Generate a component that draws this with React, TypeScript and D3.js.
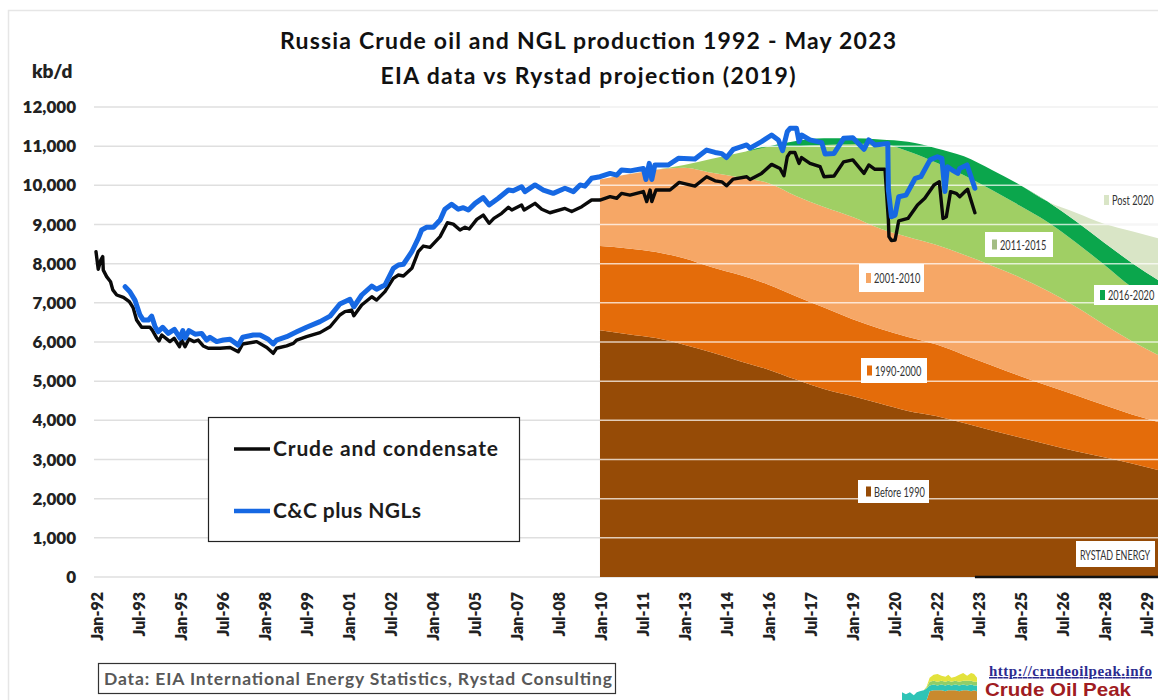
import React from "react";
import * as d3 from "d3";

const yTicks = [0, 1000, 2000, 3000, 4000, 5000, 6000, 7000, 8000, 9000, 10000, 11000, 12000];
const xTickLabels = ["Jan-92","Jul-93","Jan-95","Jul-96","Jan-98","Jul-99","Jan-01","Jul-02","Jan-04","Jul-05","Jan-07","Jul-08","Jan-10","Jul-11","Jan-13","Jul-14","Jan-16","Jul-17","Jan-19","Jul-20","Jan-22","Jul-23","Jan-25","Jul-26","Jan-28","Jul-29"];

const projYears = [2010,2011,2012,2013,2014,2015,2016,2017,2018,2019,2020,2021,2022,2023,2024,2025,2026,2027,2028,2029,2029.93];
const before1990 = [6300,6200,6100,5930,5730,5510,5300,5040,4800,4620,4430,4240,4110,3930,3740,3560,3380,3210,3060,2900,2730];
const top1990_2000 = [8450,8390,8300,8140,7910,7710,7470,7170,6880,6590,6340,6130,5940,5670,5400,5130,4880,4640,4390,4150,3960];
const top2001_2010 = [10150,10280,10400,10450,10320,10200,10060,9730,9450,9200,8900,8680,8480,8230,7950,7650,7300,6900,6450,6020,5670];
const top2011_2015 = [10150,10280,10400,10520,10680,10830,10990,11000,11030,11050,11060,10870,10580,10260,9880,9480,9060,8540,7980,7400,7000];
const top2016_2020 = [10150,10280,10400,10520,10680,10830,10990,11130,11200,11200,11170,11110,10950,10740,10390,10010,9580,9080,8540,8020,7580];
const topPost2020 = [10150,10280,10400,10520,10680,10830,10990,11130,11200,11200,11170,11110,10950,10740,10390,10010,9580,9300,9020,8830,8650];

const crudeYears = [1992,1992.08,1992.17,1992.24,1992.26,1992.38,1992.52,1992.6,1992.74,1992.98,1993.19,1993.33,1993.45,1993.63,1993.93,1994.01,1994.17,1994.25,1994.35,1994.64,1994.79,1994.98,1995.06,1995.18,1995.32,1995.5,1995.65,1995.83,1996.01,1996.43,1996.79,1997.08,1997.24,1997.74,1998.1,1998.33,1998.45,1998.81,1999.05,1999.17,1999.52,2000,2000.36,2000.71,2000.89,2001.13,2001.21,2001.49,2001.85,2002.02,2002.32,2002.62,2002.8,2002.98,2003.28,2003.51,2003.69,2003.93,2004.29,2004.55,2004.76,2005,2005.18,2005.33,2005.6,2005.83,2006.04,2006.21,2006.49,2006.73,2006.85,2007.2,2007.29,2007.68,2007.92,2008.21,2008.75,2008.99,2009.35,2009.7,2010,2010.36,2010.6,2010.77,2011.07,2011.55,2011.67,2011.79,2011.85,2012,2012.5,2012.83,2013.39,2013.81,2014.11,2014.35,2014.52,2014.76,2015.24,2015.36,2015.77,2016.13,2016.43,2016.57,2016.69,2016.79,2016.96,2017.11,2017.2,2017.5,2017.86,2018,2018.36,2018.7,2019.03,2019.43,2019.6,2019.82,2020.18,2020.3,2020.32,2020.41,2020.54,2020.67,2021,2021.34,2021.6,2021.93,2022.12,2022.25,2022.37,2022.52,2022.72,2022.85,2023.04,2023.13,2023.39];
const crudeValues = [8305,7855,8090,8180,7835,7670,7540,7330,7200,7140,7030,6870,6560,6375,6375,6305,6100,6025,6180,6010,6095,5880,6050,5880,6075,6010,6050,5900,5840,5840,5860,5750,5950,6010,5860,5710,5840,5900,5965,6050,6135,6240,6390,6690,6775,6815,6670,6945,7155,7070,7285,7625,7710,7685,7880,8305,8450,8415,8690,9045,9010,8860,8930,8885,9130,9240,9030,9155,9285,9440,9370,9500,9370,9540,9390,9300,9410,9330,9455,9625,9625,9710,9670,9795,9750,9840,9585,9880,9585,9880,9880,10075,9980,10220,10115,10090,9990,10160,10220,10150,10305,10535,10430,10245,10730,10840,10840,10560,10710,10560,10475,10220,10240,10600,10650,10305,10520,10410,10410,9115,8690,8590,8605,9095,9155,9500,9670,10010,10090,9155,9200,9840,9795,9710,9840,9900,9300];

const nglYears = [1993.04,1993.21,1993.39,1993.57,1993.69,1993.87,1993.99,1994.11,1994.22,1994.38,1994.58,1994.8,1995,1995.1,1995.18,1995.32,1995.54,1995.77,1995.95,1996.07,1996.31,1996.55,1996.79,1997.08,1997.24,1997.62,1997.86,1998.15,1998.33,1998.45,1998.81,1999.17,1999.52,2000,2000.36,2000.71,2001.07,2001.21,2001.49,2001.85,2002.02,2002.32,2002.62,2002.8,2002.98,2003.28,2003.51,2003.63,2003.81,2004.05,2004.29,2004.46,2004.7,2004.94,2005.12,2005.3,2005.54,2005.83,2006.04,2006.37,2006.73,2006.9,2007.2,2007.32,2007.68,2007.98,2008.33,2008.75,2009.05,2009.29,2009.46,2009.7,2010,2010.36,2010.6,2010.77,2011.07,2011.55,2011.64,2011.76,2011.85,2011.96,2012.44,2012.8,2013.39,2013.81,2014.11,2014.35,2014.52,2014.76,2015.24,2015.36,2015.77,2016.13,2016.37,2016.52,2016.69,2016.79,2017.02,2017.11,2017.2,2017.5,2017.92,2018.04,2018.36,2018.7,2019.03,2019.43,2019.6,2019.82,2020.28,2020.3,2020.41,2020.54,2020.67,2020.93,2021.26,2021.46,2021.79,2022.05,2022.21,2022.32,2022.41,2022.58,2022.78,2022.85,2023.11,2023.39];
const nglValues = [7410,7285,7070,6690,6560,6560,6660,6390,6260,6375,6220,6320,6100,6290,6100,6290,6200,6220,6050,6120,6010,6050,6070,5920,6120,6180,6180,6070,5950,6050,6135,6260,6375,6520,6660,6970,7090,6900,7200,7430,7345,7455,7880,7965,7985,8305,8645,8860,8930,8930,9115,9390,9515,9390,9430,9370,9540,9685,9500,9670,9880,9860,9965,9840,10010,9880,9795,9925,9840,10010,9980,10180,10220,10305,10260,10390,10370,10430,10150,10560,10150,10520,10520,10690,10670,10900,10840,10810,10710,10920,11030,10950,11115,11285,11160,10885,11370,11455,11455,11115,11285,11160,11090,10800,10815,11200,11215,10920,11160,11030,11070,9880,9200,9240,9710,9750,10180,10220,10650,10730,10690,9840,10475,10390,10305,10430,10520,9925];

const zeroLineYears = [2023.39, 2029.93];
const zeroLineValues = [0, 0];

const bandLabels = ["Before 1990", "1990-2000", "2001-2010", "2011-2015", "2016-2020", "Post 2020"];
const bandColors = ["#964b06", "#e46c0a", "#f6a766", "#a0cf64", "#0ba64c", "#d9e5c6"];

const logoX = [0,4,8,12,15,18,22,25,28,32,36,40,44,47,50,54,58,62,66,70,73,76];
const logoOrange = [0,0,0,0,0,0,0,0,9,10,10,10,9,10,10,10,9,10,10,9,10,9];
const logoTeal = [8,6,8,5,8,9,10,12,15,16,15,16,15,16,15,16,15,16,15,16,15,15];
const logoGreen = [8,6,8,5,8,9,10,13,19,20,19,20,19,20,19,20,19,20,20,20,19,19];
const logoYellow = [8,6,8,5,8,9,10,14,23,26,27,25,24,26,23,24,26,28,25,28,27,23];

const width = 1158, height = 700;
const x = d3.scaleLinear().domain([1992, 2029.93]).range([96, 1158]);
const y = d3.scaleLinear().domain([0, 12000]).range([577, 107]);
const font = "Lato, 'Open Sans', sans-serif";

function pairs(xs: number[], ys: number[]): [number, number][] {
  return xs.map((v, i) => [v, ys[i]]);
}
const lineGen = d3.line<[number, number]>().x(d => x(d[0])).y(d => y(d[1]));

function bandPath(lower: number[] | null, upper: number[]) {
  return d3.area<number>()
    .curve(d3.curveMonotoneX)
    .x(d => x(d))
    .y0((_, i) => y(lower ? lower[i] : 0))
    .y1((_, i) => y(upper[i]))(projYears) as string;
}

const bands: [number[] | null, number[]][] = [
  [null, before1990],
  [before1990, top1990_2000],
  [top1990_2000, top2001_2010],
  [top2001_2010, top2011_2015],
  [top2011_2015, top2016_2020],
  [top2016_2020, topPost2020],
];

function AreaLabel({ bx, by, bw, bh, tx, label, swatch }: { bx: number; by: number; bw: number; bh: number; tx: number; label: string; swatch: string }) {
  const cy = by + bh / 2;
  return (
    <g>
      <rect x={bx} y={by} width={bw} height={bh} fill="#fff" />
      <rect x={tx - 8} y={cy - 5} width={5} height={10} fill={swatch} />
      <text transform={`translate(${tx},${cy + 5}) scale(0.66,1)`} fontFamily={font} fontSize={14} fill="#333">{label}</text>
    </g>
  );
}

const logoScaleX = d3.scaleLinear().domain([0, 76]).range([902, 977]);
const logoScaleY = d3.scaleLinear().domain([0, 30]).range([700, 671]);
const logoArea = (lo: number[] | null, hi: number[]) =>
  d3.area<number>().x(d => logoScaleX(d)).y0((_, i) => (lo ? logoScaleY(lo[i]) : 700)).y1((_, i) => logoScaleY(hi[i]))(logoX) as string;

export default function App() {
  return (
    <svg width={width} height={height} viewBox={`0 0 ${width} ${height}`} style={{ position: "absolute", left: 0, top: 0, display: "block", background: "#fff" }}>
      <path d={`M8.5 ${height} V10.5 H${width}`} fill="none" stroke="#e6e6e6" strokeWidth={1.5} />

      <text x={588} y={49} textAnchor="middle" fontFamily={font} fontWeight={700} fontSize={23} fill="#111" textLength={616} lengthAdjust="spacing">Russia Crude oil and NGL production 1992 - May 2023</text>
      <text x={588} y={84} textAnchor="middle" fontFamily={font} fontWeight={700} fontSize={23} fill="#111" textLength={415} lengthAdjust="spacing">EIA data vs Rystad projection (2019)</text>
      <text x={32} y={78} fontFamily={font} fontWeight={800} fontSize={19} fill="#222">kb/d</text>

      {yTicks.map(t => (
        <g key={t}>
          <line x1={94} x2={1158} y1={y(t)} y2={y(t)} stroke="#dfdfdf" strokeWidth={1.5} />
          <text x={76} y={y(t) + 6} textAnchor="end" fontFamily={font} fontWeight={800} fontSize={17} fill="#222">{d3.format(",")(t)}</text>
        </g>
      ))}

      {bands.map(([lo, hi], i) => (
        <path key={bandLabels[i]} d={bandPath(lo, hi)} fill={bandColors[i]} />
      ))}

      {yTicks.filter(t => t > 0).map(t => (
        <line key={t} x1={600} x2={1158} y1={y(t)} y2={y(t)} stroke="#fff" strokeOpacity={0.72} strokeWidth={1.5} />
      ))}

      <AreaLabel bx={1094} by={285} bw={64} bh={20} tx={1108} label="2016-2020" swatch={bandColors[4]} />
      <AreaLabel bx={985} by={232} bw={68} bh={25} tx={1000} label="2011-2015" swatch="#a3bd84" />
      <AreaLabel bx={859} by={264} bw={65} bh={28} tx={874} label="2001-2010" swatch={bandColors[2]} />
      <AreaLabel bx={861} by={358} bw={66} bh={25} tx={875} label="1990-2000" swatch={bandColors[1]} />
      <AreaLabel bx={858} by={480} bw={71} bh={23} tx={874} label="Before 1990" swatch={bandColors[0]} />
      <AreaLabel bx={1102} by={190} bw={56} bh={20} tx={1112} label="Post 2020" swatch={bandColors[5]} />
      <g>
        <rect x={1076} y={541} width={79} height={26} fill="#fff" />
        <text transform="translate(1080,560) scale(0.64,1)" fontFamily={font} fontSize={14} fill="#333">RYSTAD ENERGY</text>
      </g>

      <path d={lineGen(pairs(zeroLineYears, zeroLineValues)) as string} fill="none" stroke="#111" strokeWidth={2.5} />
      <path d={lineGen(pairs(crudeYears, crudeValues)) as string} fill="none" stroke="#0a0a0a" strokeWidth={3.4} strokeLinejoin="round" strokeLinecap="round" />
      <path d={lineGen(pairs(nglYears, nglValues)) as string} fill="none" stroke="#1668e3" strokeWidth={5} strokeLinejoin="round" strokeLinecap="round" />

      {xTickLabels.map((l, i) => {
        const px = 97 + 42 * i;
        return (
          <text key={l} transform={`translate(${px + 6},592) rotate(-90)`} textAnchor="end" fontFamily={font} fontWeight={800} fontSize={16} fill="#222">{l}</text>
        );
      })}

      <rect x={208.5} y={417.5} width={311} height={124} fill="#fff" stroke="#222" strokeWidth={1.2} />
      <line x1={234} x2={270} y1={449} y2={449} stroke="#0a0a0a" strokeWidth={3.4} />
      <line x1={234} x2={270} y1={511} y2={511} stroke="#1668e3" strokeWidth={4.5} />
      <text x={273} y={456} fontFamily={font} fontWeight={700} fontSize={21} fill="#1c1c1c" textLength={225} lengthAdjust="spacing">Crude and condensate</text>
      <text x={273} y={518} fontFamily={font} fontWeight={700} fontSize={21} fill="#1c1c1c" textLength={148} lengthAdjust="spacing">C&amp;C plus NGLs</text>

      <rect x={98.5} y={663.5} width={517} height={30} fill="#fff" stroke="#333" strokeWidth={1.2} />
      <text x={104} y={685} fontFamily={font} fontWeight={700} fontSize={17.5} fill="#585858" textLength={508} lengthAdjust="spacing">Data: EIA International Energy Statistics, Rystad Consulting</text>

      <path d={logoArea(null, logoOrange)} fill="#c98a2e" />
      <path d={logoArea(logoOrange, logoTeal)} fill="#2ec4b6" />
      <path d={logoArea(logoTeal, logoGreen)} fill="#8fce6a" />
      <path d={logoArea(logoGreen, logoYellow)} fill="#e3e23c" />
      <text x={989} y={676} fontFamily="'Liberation Serif', serif" fontWeight={700} fontSize={15} fill="#2b2b8f" textDecoration="underline" textLength={163} lengthAdjust="spacing">http://crudeoilpeak.info</text>
      <text x={985} y={695.5} fontFamily="'Liberation Sans', Arial, sans-serif" fontWeight={700} fontSize={19} fill="#a01c22" textLength={146} lengthAdjust="spacingAndGlyphs">Crude Oil Peak</text>
    </svg>
  );
}
